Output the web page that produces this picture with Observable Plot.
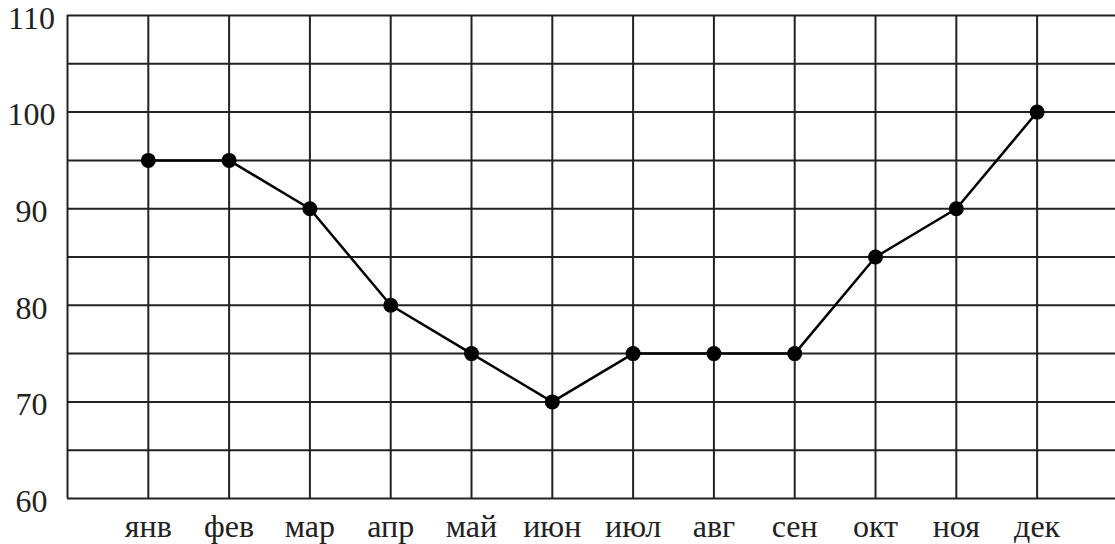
<!DOCTYPE html>
<html>
<head>
<meta charset="utf-8">
<script src="https://cdn.jsdelivr.net/npm/d3@7"></script>
<script src="https://cdn.jsdelivr.net/npm/@observablehq/plot@0.6"></script>
<style>
  html, body { margin: 0; padding: 0; background: #fff; }
</style>
</head>
<body>
<div id="chart"></div>
<script>
const months = ["янв","фев","мар","апр","май","июн","июл","авг","сен","окт","ноя","дек"];
const values = [95,95,90,80,75,70,75,75,75,85,90,100];
const yTicks = [60,70,80,90,100,110];
const yGrid = [60,65,70,75,80,85,90,95,100,105,110];
const xGrid = [0,1,2,3,4,5,6,7,8,9,10,11,12];

const data = months.map((m, i) => ({i: i + 1, m, v: values[i]}));

const chart = Plot.plot({
  width: 1115,
  height: 544,
  marginLeft: 67,
  marginRight: 0,
  marginTop: 15,
  marginBottom: 46,
  style: {fontFamily: "'Liberation Serif', 'DejaVu Serif', serif", fontSize: "32px", color: "#222", background: "#fff"},
  x: {domain: [0, 12.97], axis: null},
  y: {domain: [60, 110], axis: null},
  marks: [
    Plot.ruleY(yGrid, {x1: 0, x2: 12.97, stroke: "#222", strokeWidth: 2}),
    Plot.ruleX(xGrid, {y1: 60, y2: 110, stroke: "#222", strokeWidth: 2}),
    Plot.axisY(yTicks, {tickSize: 0, tickPadding: 36, textAnchor: "middle", dy: 3, tickFormat: d => String(d), label: null, fill: "#222"}),
    Plot.axisX(data.map(d => d.i), {tickSize: 0, tickPadding: 16, tickFormat: d => months[d - 1], label: null, fill: "#222"}),
    Plot.line(data, {x: "i", y: "v", stroke: "#000", strokeWidth: 2.5}),
    Plot.dot(data, {x: "i", y: "v", r: 7.5, fill: "#000", stroke: "none"})
  ]
});
document.getElementById("chart").appendChild(chart);
</script>
</body>
</html>
